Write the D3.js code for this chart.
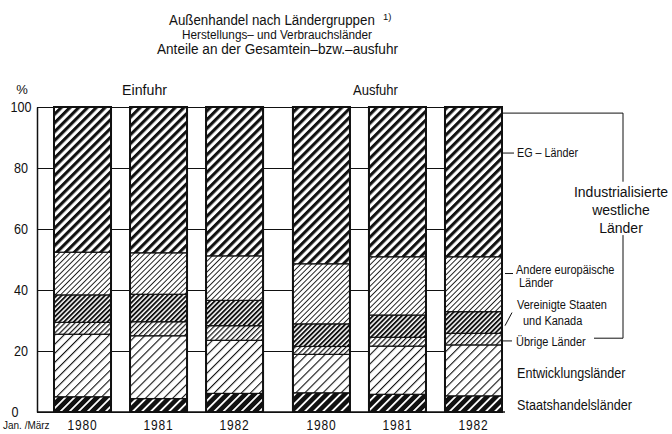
<!DOCTYPE html>
<html><head><meta charset="utf-8">
<script src="https://cdn.jsdelivr.net/npm/d3@7"></script>
<style>
body{margin:0;background:#fff}
text{font-family:"Liberation Sans",Arial,sans-serif;fill:#111}
</style>
</head><body>
<svg id="c" width="672" height="434"></svg>
<script>
// ---- data ----
const groups = ["Einfuhr", "Ausfuhr"];
const years = ["1980", "1981", "1982"];
const seriesNames = ["Staatshandelsländer", "Entwicklungsländer", "Übrige Länder",
  "Vereinigte Staaten und Kanada", "Andere europäische Länder", "EG – Länder"];
const staatshandel = [5.0, 4.4, 6.1, 6.3, 5.8, 5.3];
const entwicklung  = [20.5, 20.6, 17.4, 12.6, 15.8, 16.7];
const uebrige      = [3.9, 4.6, 4.8, 2.6, 2.9, 3.8];
const usaKanada    = [9.0, 9.0, 8.3, 7.4, 7.3, 7.1];
const andereEuropa = [14.0, 13.6, 14.6, 19.7, 19.1, 18.0];
const egLaender    = [47.6, 47.8, 48.8, 51.4, 49.1, 49.1];
const yTicks = [0, 20, 40, 60, 80, 100];

const seriesValues = [staatshandel, entwicklung, uebrige, usaKanada, andereEuropa, egLaender];
const rows = [];
groups.forEach((g, gi) => years.forEach((yr, yi) => {
  const idx = gi * 3 + yi;
  const r = {group: g, year: yr};
  seriesNames.forEach((s, si) => r[s] = seriesValues[si][idx]);
  rows.push(r);
}));

const svg = d3.select("#c");
const defs = svg.append("defs");
function hatch(id, period, width, fg, bg) {
  const p = defs.append("pattern").attr("id", id).attr("patternUnits", "userSpaceOnUse")
    .attr("width", period).attr("height", period).attr("patternTransform", "rotate(45)");
  p.append("rect").attr("width", period).attr("height", period).attr("fill", bg);
  p.append("rect").attr("x", 0).attr("width", width).attr("height", period).attr("fill", fg);
}
hatch("p0", 6.4, 1.8, "#fff", "#111");   // Staatshandel
hatch("p1", 6.4, 1.1, "#111", "#fff");   // Entwicklung
hatch("p2", 3.6, 1.2, "#111", "#fff");   // Übrige
hatch("p3", 3.4, 1.9, "#111", "#fff");   // USA/Kanada
hatch("p4", 3.8, 0.9, "#111", "#fff");   // Andere europ.
hatch("p5", 6.2, 3.1, "#111", "#fff");   // EG
const patIds = ["p0", "p1", "p2", "p3", "p4", "p5"];

function squeeze(sel, ratio) {
  sel.each(function () {
    const w = this.getComputedTextLength();
    d3.select(this).attr("textLength", w * ratio).attr("lengthAdjust", "spacingAndGlyphs");
  });
  return sel;
}
function fit(sel, width) {
  sel.attr("textLength", width).attr("lengthAdjust", "spacingAndGlyphs");
  return sel;
}

const y = d3.scaleLinear().domain([0, 100]).range([412, 107]);
const xOuter = d3.scaleBand().domain(groups).range([54, 502]).paddingInner(0.125);
const xInner = d3.scaleBand().domain(years).range([0, xOuter.bandwidth()]).paddingInner(0.25);
const xPos = d => xOuter(d.group) + xInner(d.year);
const axisX = 37, rightEnd = xOuter.range()[1];

// y axis + gridlines
const gAxis = svg.append("g").attr("transform", `translate(${axisX},0)`)
  .call(d3.axisLeft(y).tickValues(yTicks).tickSize(-(rightEnd - axisX)).tickSizeOuter(0).tickPadding(0));
gAxis.select(".domain").attr("stroke", "#111").attr("stroke-width", 1.5);
gAxis.selectAll(".tick line").attr("stroke", "#111").attr("stroke-width", 1.2);
gAxis.selectAll(".tick text").attr("font-size", 14).style("fill", "#111")
  .style("font-family", '"Liberation Sans",Arial,sans-serif')
  .attr("text-anchor", "middle").attr("x", d => d === 0 ? -22 : -16);
squeeze(gAxis.selectAll(".tick text"), 0.9);

// stacked bars
const layers = d3.stack().keys(seriesNames)(rows);
const gBars = svg.append("g");
layers.forEach((layer, li) => {
  gBars.selectAll(null).data(layer).join("rect")
    .attr("x", d => xPos(d.data))
    .attr("width", xInner.bandwidth())
    .attr("y", d => y(d[1]))
    .attr("height", d => y(d[0]) - y(d[1]))
    .attr("fill", `url(#${patIds[li]})`)
    .attr("stroke", "#111").attr("stroke-width", 1.2);
});
gBars.selectAll(null).data(rows).join("rect")
  .attr("x", xPos).attr("width", xInner.bandwidth())
  .attr("y", y(100)).attr("height", y(0) - y(100))
  .attr("fill", "none").attr("stroke", "#111").attr("stroke-width", 2);

// baseline
svg.append("line").attr("x1", axisX).attr("x2", rightEnd + 3).attr("y1", y(0)).attr("y2", y(0))
  .attr("stroke", "#111").attr("stroke-width", 1.5);

// x labels
squeeze(svg.append("g").selectAll("text").data(rows).join("text")
  .attr("x", d => xPos(d) + xInner.bandwidth() / 2).attr("y", 430)
  .attr("text-anchor", "middle").attr("font-size", 15).attr("letter-spacing", 1).text(d => d.year), 0.8);
squeeze(svg.append("text").attr("x", 3).attr("y", 429).attr("font-size", 10.5).text("Jan. /März"), 0.95);

// group labels
const grpShift = {Einfuhr: -14, Ausfuhr: -22};
groups.forEach(g => {
  fit(svg.append("text").attr("x", xOuter(g) + xOuter.bandwidth() / 2 + grpShift[g]).attr("y", 95)
    .attr("text-anchor", "middle").attr("font-size", 14).text(g), 45);
});
svg.append("text").attr("x", 22).attr("y", 94).attr("text-anchor", "middle").attr("font-size", 13).text("%");

// titles (condensed via horizontal scale)
const tg = svg.append("g").attr("transform", "translate(169,25) scale(0.86,1)");
tg.append("text").attr("x", 0).attr("y", 0).attr("font-size", 15.5).text("Außenhandel nach Ländergruppen");
svg.append("text").attr("x", 383).attr("y", 20).attr("font-size", 9.5).text("1)");
fit(svg.append("text").attr("x", 182).attr("y", 38.5).attr("font-size", 12)
  .text("Herstellungs– und Verbrauchsländer"), 190);
fit(svg.append("text").attr("x", 157).attr("y", 54).attr("font-size", 14)
  .text("Anteile an der Gesamtein–bzw.–ausfuhr"), 241);

// right annotations
const ann = svg.append("g");
const lx = 517;
function label(txt, x, v, size, ratio) {
  return squeeze(ann.append("text").attr("x", x).attr("y", y(v)).attr("dy", "0.35em")
    .attr("font-size", size).text(txt), ratio);
}
function seg(x1, v1, x2, v2) {
  ann.append("line").attr("x1", x1).attr("y1", y(v1)).attr("x2", x2).attr("y2", y(v2))
    .attr("stroke", "#111").attr("stroke-width", 1);
}
label("EG – Länder", lx, 84.9, 12.5, 0.86); seg(rightEnd, 84.9, 514, 84.9);
label("Andere europäische", lx - 1, 46.6, 12.5, 0.88); label("Länder", lx + 2, 42.5, 12.5, 0.88);
seg(rightEnd + 3, 45.4, 513, 45.4);
label("Vereinigte Staaten", lx, 35.1, 12.5, 0.88); label("und Kanada", lx + 6, 30.0, 12.5, 0.88);
seg(rightEnd + 3, 28.3, 512, 32.6);
label("Übrige Länder", lx - 1, 23.0, 12.5, 0.88); seg(rightEnd, 23.3, 512, 23.3);
label("Entwicklungsländer", lx, 12.8, 14, 0.9);
label("Staatshandelsländer", lx, 2.3, 14, 0.9);
// bracket
const bx = 623;
seg(rightEnd, 98, bx, 98);
seg(bx, 98, bx, 75.5);
seg(bx, 58, bx, 24.2);
seg(594, 24.2, bx, 24.2);
[["Industrialisierte", 72.1], ["westliche", 66.2], ["Länder", 60.3]].forEach(([s, v]) => {
  ann.append("text").attr("x", 621).attr("y", y(v)).attr("dy", "0.35em")
    .attr("text-anchor", "middle").attr("font-size", 14).text(s);
});
</script>
</body></html>
